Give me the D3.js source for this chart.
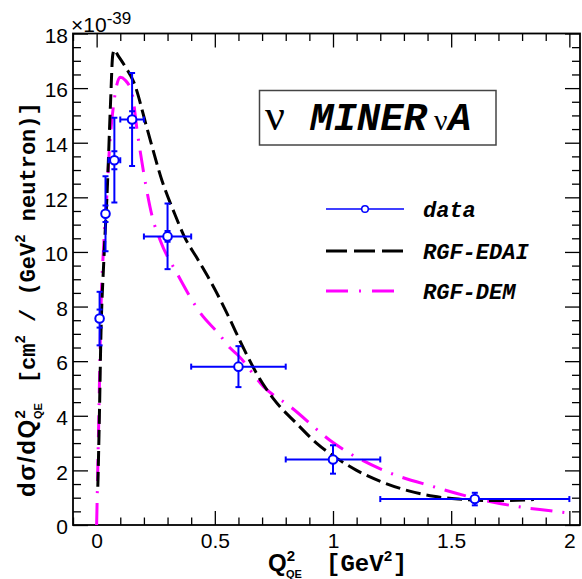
<!DOCTYPE html>
<html>
<head>
<meta charset="utf-8">
<script src="https://cdn.jsdelivr.net/npm/d3@7"></script>
<style>
  body { margin: 0; background: #fff; }
  svg { display: block; }
</style>
</head>
<body>
<script>
// MINERvA data points (x = bin centre, errors = half bin width / total / stat)
const dataQ2 = [0.0125, 0.0375, 0.075, 0.15, 0.3, 0.6, 1.0, 1.6];
const dataQ2Err = [0.0125, 0.0125, 0.025, 0.05, 0.1, 0.2, 0.2, 0.4];
const dataXS = [7.56, 11.4, 13.36, 14.85, 10.57, 5.8, 2.4, 0.95];
const dataErrTot = [0.98, 1.37, 1.55, 1.7, 1.2, 0.75, 0.52, 0.23];
const dataErrStat = [0.33, 0.3, 0.33, 0.3, 0.2, 0, 0, 0];

// RGF-EDAI curve
const edaiQ2 = [0.005, 0.01, 0.013, 0.017, 0.031, 0.045, 0.059, 0.068, 0.075, 0.09, 0.12, 0.158, 0.214, 0.277,
  0.33, 0.369, 0.43, 0.496, 0.56, 0.62, 0.68, 0.75, 0.848, 0.93, 1.017, 1.1, 1.214, 1.32, 1.426, 1.53, 1.636, 1.74, 1.85];
const edaiXS = [1.4, 3.3, 4.6, 6.5, 9.8, 12.3, 15.5, 17.2, 17.4, 17.2, 16.8, 16.2, 14.5, 12.6,
  11.4, 10.6, 9.7, 8.7, 7.6, 6.5, 5.5, 4.6, 3.7, 3.0, 2.44, 2.0, 1.55, 1.25, 1.05, 0.95, 0.9, 0.9, 0.93];

// RGF-DEM curve
const demQ2 = [0.0, 0.01, 0.017, 0.031, 0.042, 0.052, 0.075, 0.1, 0.12, 0.15, 0.172, 0.207, 0.235, 0.27,
  0.341, 0.44, 0.517, 0.566, 0.6, 0.707, 0.82, 1.003, 1.214, 1.426, 1.637, 1.8, 1.92, 2.0];
const demXS = [0.0, 4.3, 7.5, 10.4, 11.9, 13.5, 15.6, 16.4, 16.3, 15.8, 14.4, 12.5, 11.3, 10.4,
  9.2, 7.75, 7.0, 6.47, 6.2, 5.06, 4.33, 3.0, 2.0, 1.4, 0.91, 0.65, 0.52, 0.43];

const xMajor = [0, 0.5, 1, 1.5, 2];
const xTickLabels = ["0", "0.5", "1", "1.5", "2"];
const yMajor = [0, 2, 4, 6, 8, 10, 12, 14, 16, 18];
const legendLabels = ["data", "RGF-EDAI", "RGF-DEM"];

const W = 582, H = 579;
const pLeft = 73, pRight = 580, pTop = 33.5, pBottom = 525;

const svg = d3.select("body").append("svg")
  .attr("width", W).attr("height", H);

const x = d3.scaleLinear().domain([-0.1, 2.045]).range([pLeft, pRight]);
const y = d3.scaleLinear().domain([0, 18]).range([pBottom, pTop]);

const xMinor = d3.range(-0.1, 2.045, 0.1).map(v => +v.toFixed(2)).filter(v => !xMajor.includes(v));
const yMinor = d3.range(0, 18.01, 0.5).filter(v => !yMajor.includes(v));

const tickFont = "'Liberation Sans', Arial, sans-serif";
const mono = "'Liberation Mono', 'Courier New', monospace";

function styleAxis(g) {
  g.select(".domain").remove();
  g.selectAll(".tick line").attr("stroke", "#000").attr("stroke-width", 1.3);
  g.selectAll(".tick text").attr("font-family", tickFont).attr("font-size", 21).attr("fill", "#000");
}

// bottom axis
svg.append("g").attr("transform", `translate(0,${pBottom})`)
  .call(d3.axisBottom(x).tickValues(xMajor).tickSize(-14).tickPadding(8)
    .tickFormat((d, i) => xTickLabels[i]))
  .call(styleAxis);
svg.append("g").attr("transform", `translate(0,${pBottom})`)
  .call(d3.axisBottom(x).tickValues(xMinor).tickSize(-7.5).tickFormat(""))
  .call(styleAxis);
// top axis
svg.append("g").attr("transform", `translate(0,${pTop})`)
  .call(d3.axisTop(x).tickValues(xMajor).tickSize(-14).tickFormat(""))
  .call(styleAxis);
svg.append("g").attr("transform", `translate(0,${pTop})`)
  .call(d3.axisTop(x).tickValues(xMinor).tickSize(-7.5).tickFormat(""))
  .call(styleAxis);
// left axis
svg.append("g").attr("transform", `translate(${pLeft},0)`)
  .call(d3.axisLeft(y).tickValues(yMajor).tickSize(-15).tickPadding(5))
  .call(styleAxis)
  .selectAll(".tick text").attr("dy", "0.42em");
svg.append("g").attr("transform", `translate(${pLeft},0)`)
  .call(d3.axisLeft(y).tickValues(yMinor).tickSize(-8).tickFormat(""))
  .call(styleAxis);
// right axis
svg.append("g").attr("transform", `translate(${pRight},0)`)
  .call(d3.axisRight(y).tickValues(yMajor).tickSize(-15).tickFormat(""))
  .call(styleAxis);
svg.append("g").attr("transform", `translate(${pRight},0)`)
  .call(d3.axisRight(y).tickValues(yMinor).tickSize(-8).tickFormat(""))
  .call(styleAxis);

// frame
svg.append("rect")
  .attr("x", pLeft).attr("y", pTop)
  .attr("width", pRight - pLeft).attr("height", pBottom - pTop)
  .attr("fill", "none").attr("stroke", "#000").attr("stroke-width", 1.8);

// exponent
const expo = svg.append("text")
  .attr("x", 71).attr("y", 32)
  .attr("font-family", tickFont).attr("font-size", 21).attr("fill", "#000");
expo.append("tspan").text("\u00d710");
expo.append("tspan").attr("font-size", 17).attr("dy", -8).text("-39");

// clip
svg.append("clipPath").attr("id", "plotclip")
  .append("rect").attr("x", pLeft).attr("y", pTop)
  .attr("width", pRight - pLeft).attr("height", pBottom - pTop);

const plot = svg.append("g").attr("clip-path", "url(#plotclip)");

const line = d3.line()
  .x(d => x(d[0])).y(d => y(d[1]))
  .curve(d3.curveMonotoneX);

plot.append("path")
  .datum(demQ2.map((q, i) => [q, demXS[i]]))
  .attr("d", line)
  .attr("fill", "none").attr("stroke", "#ff00ff").attr("stroke-width", 3)
  .attr("stroke-dasharray", "22,10,2,10");

plot.append("path")
  .datum(edaiQ2.map((q, i) => [q, edaiXS[i]]))
  .attr("d", line)
  .attr("fill", "none").attr("stroke", "#000").attr("stroke-width", 3)
  .attr("stroke-dasharray", "15,6");

// data with error bars
const blue = "#0000ff";
const pts = dataQ2.map((q, i) => ({
  q, v: dataXS[i], ex: dataQ2Err[i], et: dataErrTot[i], es: dataErrStat[i]
}));
const pg = plot.append("g").attr("stroke", blue).attr("stroke-width", 2);

pts.forEach(p => {
  const g = pg.append("g");
  const cx = x(p.q), cy = y(p.v);
  g.append("line").attr("x1", x(p.q - p.ex)).attr("x2", x(p.q + p.ex)).attr("y1", cy).attr("y2", cy);
  g.append("line").attr("x1", cx).attr("x2", cx).attr("y1", y(p.v - p.et)).attr("y2", y(p.v + p.et));
  // x caps
  [p.q - p.ex, p.q + p.ex].forEach(e => {
    g.append("line").attr("x1", x(e)).attr("x2", x(e)).attr("y1", cy - 3).attr("y2", cy + 3);
  });
  // y caps (total and stat)
  [p.v - p.et, p.v + p.et].concat(p.es > 0 ? [p.v - p.es, p.v + p.es] : []).forEach(e => {
    g.append("line").attr("x1", cx - 3).attr("x2", cx + 3).attr("y1", y(e)).attr("y2", y(e));
  });
  g.append("circle").attr("cx", cx).attr("cy", cy).attr("r", 4.3)
    .attr("fill", "#fff").attr("stroke", blue).attr("stroke-width", 2);
});

// title box
svg.append("rect")
  .attr("x", 259.5).attr("y", 90.5).attr("width", 236.5).attr("height", 54.5)
  .attr("fill", "#fff").attr("stroke", "#444").attr("stroke-width", 1.5);
const title = svg.append("text").attr("y", 130).attr("fill", "#000");
title.append("tspan").attr("x", 265).attr("font-family", "'Liberation Serif', serif")
  .attr("font-size", 44).text("\u03bd");
title.append("tspan").attr("x", 310).attr("font-family", mono).attr("font-weight", "bold")
  .attr("font-style", "italic").attr("font-size", 39).text("MINER");
title.append("tspan").attr("x", 434).attr("font-family", "'Liberation Serif', serif")
  .attr("font-size", 30).text("\u03bd");
title.append("tspan").attr("x", 448).attr("font-family", mono).attr("font-weight", "bold")
  .attr("font-style", "italic").attr("font-size", 39).text("A");

// legend
const legX1 = 326, legX2 = 404, legTextX = 423;
const legRows = [209, 251, 291];
const lg = svg.append("g");
lg.append("line").attr("x1", legX1).attr("x2", legX2).attr("y1", legRows[0]).attr("y2", legRows[0])
  .attr("stroke", blue).attr("stroke-width", 1.5);
lg.append("circle").attr("cx", (legX1 + legX2) / 2).attr("cy", legRows[0]).attr("r", 3.3)
  .attr("fill", "#fff").attr("stroke", blue).attr("stroke-width", 1.5);
lg.append("line").attr("x1", legX1).attr("x2", legX2).attr("y1", legRows[1]).attr("y2", legRows[1])
  .attr("stroke", "#000").attr("stroke-width", 3).attr("stroke-dasharray", "21,7");
lg.append("line").attr("x1", legX1).attr("x2", legX2).attr("y1", legRows[2]).attr("y2", legRows[2])
  .attr("stroke", "#ff00ff").attr("stroke-width", 3).attr("stroke-dasharray", "22,11,2,11");
legendLabels.forEach((t, i) => {
  lg.append("text").attr("x", legTextX).attr("y", legRows[i] + 8)
    .attr("font-family", mono).attr("font-weight", "bold").attr("font-style", "italic")
    .attr("font-size", 22).attr("fill", "#000").text(t);
});

// y axis title
const sansB = "'Liberation Sans', Arial, sans-serif";
const yt = svg.append("text")
  .attr("transform", "translate(35,497) rotate(-90)")
  .attr("font-weight", "bold").attr("fill", "#000");
yt.append("tspan").attr("font-family", sansB).attr("font-size", 24).attr("letter-spacing", 1.5).text("d\u03c3/dQ");
yt.append("tspan").attr("font-family", sansB).attr("font-size", 15).attr("dy", -10).text("2");
yt.append("tspan").attr("font-family", sansB).attr("font-size", 11).attr("dx", -9).attr("dy", 17).text("QE");
yt.append("tspan").attr("font-family", mono).attr("font-size", 22).attr("dx", 20).attr("dy", -7).text("[cm");
yt.append("tspan").attr("font-family", mono).attr("font-size", 14).attr("dy", -10).text("2");
yt.append("tspan").attr("font-family", mono).attr("font-size", 22).attr("dy", 10).text(" / (GeV");
yt.append("tspan").attr("font-family", mono).attr("font-size", 14).attr("dy", -10).text("2");
yt.append("tspan").attr("font-family", mono).attr("font-size", 22).attr("dy", 10).text(" neutron)]");

// x axis title
const xt = svg.append("text").attr("x", 268).attr("y", 571)
  .attr("font-weight", "bold").attr("fill", "#000");
xt.append("tspan").attr("font-family", sansB).attr("font-size", 24).text("Q");
xt.append("tspan").attr("font-family", sansB).attr("font-size", 15).attr("dy", -10).text("2");
xt.append("tspan").attr("font-family", sansB).attr("font-size", 11).attr("dx", -9).attr("dy", 17).text("QE");
xt.append("tspan").attr("x", 326).attr("dy", -7).attr("font-family", mono).attr("font-size", 24).text("[GeV");
xt.append("tspan").attr("font-family", mono).attr("font-size", 15).attr("dy", -10).text("2");
xt.append("tspan").attr("font-family", mono).attr("font-size", 24).attr("dy", 10).text("]");
</script>
</body>
</html>
